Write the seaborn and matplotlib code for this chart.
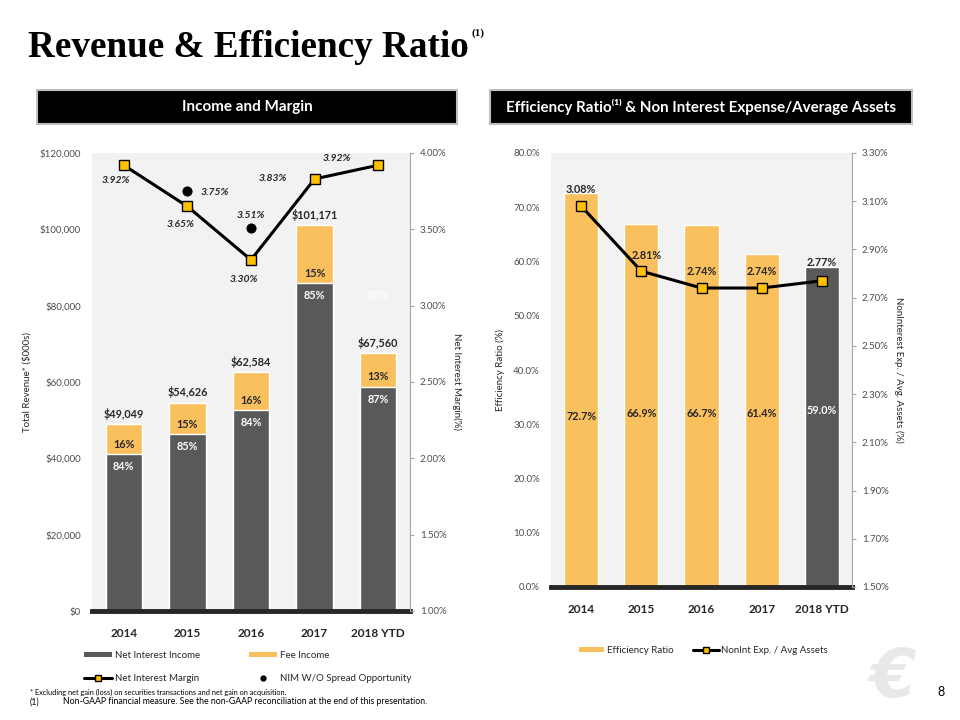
import numpy as np
import pandas as pd
import matplotlib
matplotlib.use("Agg")
import matplotlib.pyplot as plt
import seaborn as sns
from matplotlib.lines import Line2D
from matplotlib.patches import Patch, Rectangle

# ---------------- data ----------------
categories = ["2014", "2015", "2016", "2017", "2018 YTD"]
total_revenue = [49049, 54626, 62584, 101171, 67560]
nii_share = [84, 85, 84, 85, 87]
fee_share = [16, 15, 16, 15, 13]
nim = [3.92, 3.65, 3.30, 3.83, 3.92]
nim_wo_spread = [np.nan, 3.75, 3.51, np.nan, np.nan]
eff_ratio = [72.7, 66.9, 66.7, 61.4, 59.0]
nonint_exp = [3.08, 2.81, 2.74, 2.74, 2.77]

rev_ticks = [0, 20000, 40000, 60000, 80000, 100000, 120000]
nim_ticks = [1.00, 1.50, 2.00, 2.50, 3.00, 3.50, 4.00]
eff_ticks = [0, 10, 20, 30, 40, 50, 60, 70, 80]
exp_ticks = [1.50, 1.70, 1.90, 2.10, 2.30, 2.50, 2.70, 2.90, 3.10, 3.30]

# ---------------- style ----------------
sns.set_theme(style="white")
SANS = ["Lato", "DejaVu Sans"]
plt.rcParams["font.family"] = SANS

DARK = "#595959"
FEE = "#FAC05E"
MARK = "#FFC000"
BG = "#F2F2F2"
TXT = "#262626"
TICK = "#4D4D4D"

fig = plt.figure(figsize=(9.6, 7.2), dpi=100)
W, H = 960.0, 720.0


def fbox(x0, y0, x1, y1):
    return [x0 / W, 1 - y1 / H, (x1 - x0) / W, (y1 - y0) / H]


nii = [t * s / 100.0 for t, s in zip(total_revenue, nii_share)]
pos = np.arange(len(categories))

# ---------------- left chart ----------------
ax = fig.add_axes(fbox(92, 153, 410, 611))
ax.set_facecolor(BG)
sns.barplot(x=categories, y=total_revenue, color=FEE, saturation=1, width=0.57, ax=ax)
sns.barplot(x=categories, y=nii, color=DARK, saturation=1, width=0.57, ax=ax)
ax.set_ylim(0, 120000)
ax.set_xlim(-0.5, 4.5)
ax.set_yticks(rev_ticks)
ax.set_yticklabels([f"${v:,.0f}" for v in rev_ticks], fontsize=7, color=TICK)
ax.set_xticks(pos)
ax.set_xticklabels(categories, fontsize=8.5, fontweight="bold", color=TXT)
ax.tick_params(axis="x", length=0, pad=12)
ax.tick_params(axis="y", length=0, pad=8)
for s in ["left", "top", "right"]:
    ax.spines[s].set_visible(False)
ax.spines["bottom"].set_color("#262626")
ax.spines["bottom"].set_linewidth(3.5)
ax.set_ylabel("Total Revenue* ($000s)", fontsize=7, color=TXT, labelpad=6)

for i, (t, n, ps, fs) in enumerate(zip(total_revenue, nii, nii_share, fee_share)):
    ax.annotate(f"${t:,.0f}", (i, t), xytext=(0, 3), textcoords="offset points",
                ha="center", va="bottom", fontsize=7.8, fontweight="bold", color=TXT)
    ax.annotate(f"{fs}%", (i, n), xytext=(0, 7), textcoords="offset points",
                ha="center", va="center", fontsize=7.8, fontweight="bold", color=TXT)
    ax.annotate(f"{ps}%", (i, n), xytext=(0, -9), textcoords="offset points",
                ha="center", va="center", fontsize=7.8, fontweight="bold", color="white")
# faint stray label present in the original
ax.annotate(f"{nii_share[3]}%", (4, nii[3]), xytext=(0, -9), textcoords="offset points",
            ha="center", va="center", fontsize=7.8, fontweight="bold", color="white")

ax2 = ax.twinx()
sns.lineplot(x=pos, y=nim, ax=ax2, color="black", lw=2.2, marker="s", markersize=7,
             markerfacecolor=MARK, markeredgecolor="black", markeredgewidth=1)
sns.scatterplot(x=pos, y=nim_wo_spread, ax=ax2, color="black", s=45, edgecolor="black")
ax2.set_ylim(1.0, 4.0)
ax2.set_xlim(-0.5, 4.5)
ax2.set_yticks(nim_ticks)
ax2.set_yticklabels([f"{v:.2f}%" for v in nim_ticks], fontsize=7, color=TICK)
ax2.tick_params(axis="y", length=3, width=0.8, color="#A6A6A6", pad=4, direction="out")
for s in ["left", "top", "bottom"]:
    ax2.spines[s].set_visible(False)
ax2.spines["right"].set_color("#A6A6A6")
ax2.spines["right"].set_linewidth(0.8)
ax2.set_ylabel("Net Interest Margin(%)", fontsize=7, color=TXT, rotation=270, labelpad=11)

nim_offsets = [(-6, -11), (-5, -13), (-5, -14), (-30, 0), (-30, 5)]
for i, (v, off) in enumerate(zip(nim, nim_offsets)):
    ax2.annotate(f"{v:.2f}%", (i, v), xytext=off, textcoords="offset points",
                 ha="center", va="center", fontsize=7.5, fontstyle="italic",
                 fontweight="bold", color=TXT)
wo_offsets = {1: (20, -1), 2: (0, 9)}
for i, v in enumerate(nim_wo_spread):
    if not np.isnan(v):
        ax2.annotate(f"{v:.2f}%", (i, v), xytext=wo_offsets[i], textcoords="offset points",
                     ha="center", va="center", fontsize=7.5, fontstyle="italic",
                     fontweight="bold", color=TXT)

leg_handles = [
    Patch(facecolor=DARK, edgecolor="none", label="Net Interest Income"),
    Line2D([0], [0], color="black", lw=2.2, marker="s", markersize=5,
           markerfacecolor=MARK, markeredgecolor="black", label="Net Interest Margin"),
    Patch(facecolor=FEE, edgecolor="none", label="Fee Income"),
    Line2D([0], [0], color="none", marker="o", markersize=3.5, markerfacecolor="black",
           markeredgecolor="black", label="NIM W/O Spread Opportunity"),
]
fig.legend(handles=leg_handles, ncol=2, loc="upper left", bbox_to_anchor=(84 / W, 1 - 651 / H),
           frameon=False, fontsize=7, handlelength=2.9, handleheight=0.5, handletextpad=0.3,
           columnspacing=5.0, labelspacing=1.45, borderpad=0, borderaxespad=0,
           labelcolor=TXT)

# ---------------- right chart ----------------
bx = fig.add_axes(fbox(551, 153, 852, 587))
bx.set_facecolor(BG)
bar_colors = [FEE, FEE, FEE, FEE, DARK]
sns.barplot(x=categories, y=eff_ratio, hue=categories, palette=bar_colors, legend=False,
            saturation=1, width=0.57, ax=bx)
bx.set_ylim(0, 80)
bx.set_xlim(-0.5, 4.5)
bx.set_yticks(eff_ticks)
bx.set_yticklabels([f"{v:.1f}%" for v in eff_ticks], fontsize=7, color=TICK)
bx.set_xticks(pos)
bx.set_xticklabels(categories, fontsize=8.5, fontweight="bold", color=TXT)
bx.tick_params(axis="x", length=0, pad=12)
bx.tick_params(axis="y", length=0, pad=8)
for s in ["left", "top", "right"]:
    bx.spines[s].set_visible(False)
bx.spines["bottom"].set_color("#262626")
bx.spines["bottom"].set_linewidth(3.5)
bx.set_ylabel("Efficiency Ratio (%)", fontsize=7, color=TXT, labelpad=6)
for i, v in enumerate(eff_ratio):
    c = "white" if i == 4 else TXT
    yl = 31.5 if i == 0 else 32.0
    bx.text(i, yl + (0.5 if i == 4 else 0), f"{v:.1f}%", ha="center", va="center",
            fontsize=7.8, fontweight="bold", color=c)

bx2 = bx.twinx()
sns.lineplot(x=pos, y=nonint_exp, ax=bx2, color="black", lw=2.2, marker="s", markersize=7,
             markerfacecolor=MARK, markeredgecolor="black", markeredgewidth=1)
bx2.set_ylim(1.5, 3.3)
bx2.set_xlim(-0.5, 4.5)
bx2.set_yticks(exp_ticks)
bx2.set_yticklabels([f"{v:.2f}%" for v in exp_ticks], fontsize=7, color=TICK)
bx2.tick_params(axis="y", length=3, width=0.8, color="#A6A6A6", pad=4, direction="out")
for s in ["left", "top", "bottom"]:
    bx2.spines[s].set_visible(False)
bx2.spines["right"].set_color("#A6A6A6")
bx2.spines["right"].set_linewidth(0.8)
bx2.set_ylabel("NonInterest Exp. / Avg. Assets (%)", fontsize=7, color=TXT,
               rotation=270, labelpad=11)
exp_offsets = [(0, 12), (4, 11), (0, 12), (0, 12), (0, 13)]
for i, (v, off) in enumerate(zip(nonint_exp, exp_offsets)):
    bx2.annotate(f"{v:.2f}%", (i, v), xytext=off, textcoords="offset points",
                 ha="center", va="center", fontsize=7.8, fontweight="bold", color=TXT)

r_handles = [
    Patch(facecolor=FEE, edgecolor="none", label="Efficiency Ratio"),
    Line2D([0], [0], color="black", lw=2.2, marker="s", markersize=5,
           markerfacecolor=MARK, markeredgecolor="black", label="NonInt Exp. / Avg Assets"),
]
fig.legend(handles=r_handles, ncol=2, loc="upper left", bbox_to_anchor=(579 / W, 1 - 646 / H),
           frameon=False, fontsize=7, handlelength=2.6, handleheight=0.5, handletextpad=0.3,
           columnspacing=2.0, borderpad=0, borderaxespad=0, labelcolor=TXT)

# ---------------- title, headers, footnotes ----------------
title = fig.text(28 / W, 1 - 57 / H, "Revenue & Efficiency Ratio", fontsize=26.7,
                 fontweight="bold", family=["Liberation Serif", "DejaVu Serif"],
                 color="black", va="baseline", ha="left")
fig.canvas.draw()
bb = title.get_window_extent(renderer=fig.canvas.get_renderer())
fig.text((bb.x1 + 3) / W, 1 - 36 / H, "(1)", fontsize=8, fontweight="bold",
         family=["Liberation Serif", "DejaVu Serif"], color="black", va="baseline", ha="left")

for (x0, x1, label, fs) in [(37, 457, "Income and Margin", 11),
                            (490, 912, "Efficiency Ratio\u207d\u00b9\u207e & Non Interest Expense/Average Assets", 10.9)]:
    fig.patches.append(Rectangle((x0 / W, 1 - 124 / H), (x1 - x0) / W, 34 / H,
                                 transform=fig.transFigure, facecolor="black",
                                 edgecolor="#BFBFBF", lw=1.5))
    fig.text((x0 + x1) / 2 / W, 1 - 107 / H, label, color="white", fontsize=fs,
             fontweight="bold", ha="center", va="center", family=SANS)

fig.text(30 / W, 1 - 692 / H,
         "* Excluding net gain (loss) on securities transactions and net gain on acquisition.",
         fontsize=5.3, color="black", va="center")
fig.text(30 / W, 1 - 702 / H, "(1)", fontsize=6.3, color="black", va="center")
fig.text(63 / W, 1 - 702 / H,
         "Non-GAAP financial measure. See the non-GAAP reconciliation at the end of this presentation.",
         fontsize=6.3, color="black", va="center")

fig.text(893 / W, 1 - 678 / H, "\u20ac", fontsize=48, fontweight="bold", fontstyle="italic",
         color="#E8E8E8", ha="center", va="center", family=["DejaVu Sans"])
fig.text(941 / W, 1 - 692 / H, "8", fontsize=9, color="black", ha="center", va="center")

fig.savefig("out.png", dpi=100)
